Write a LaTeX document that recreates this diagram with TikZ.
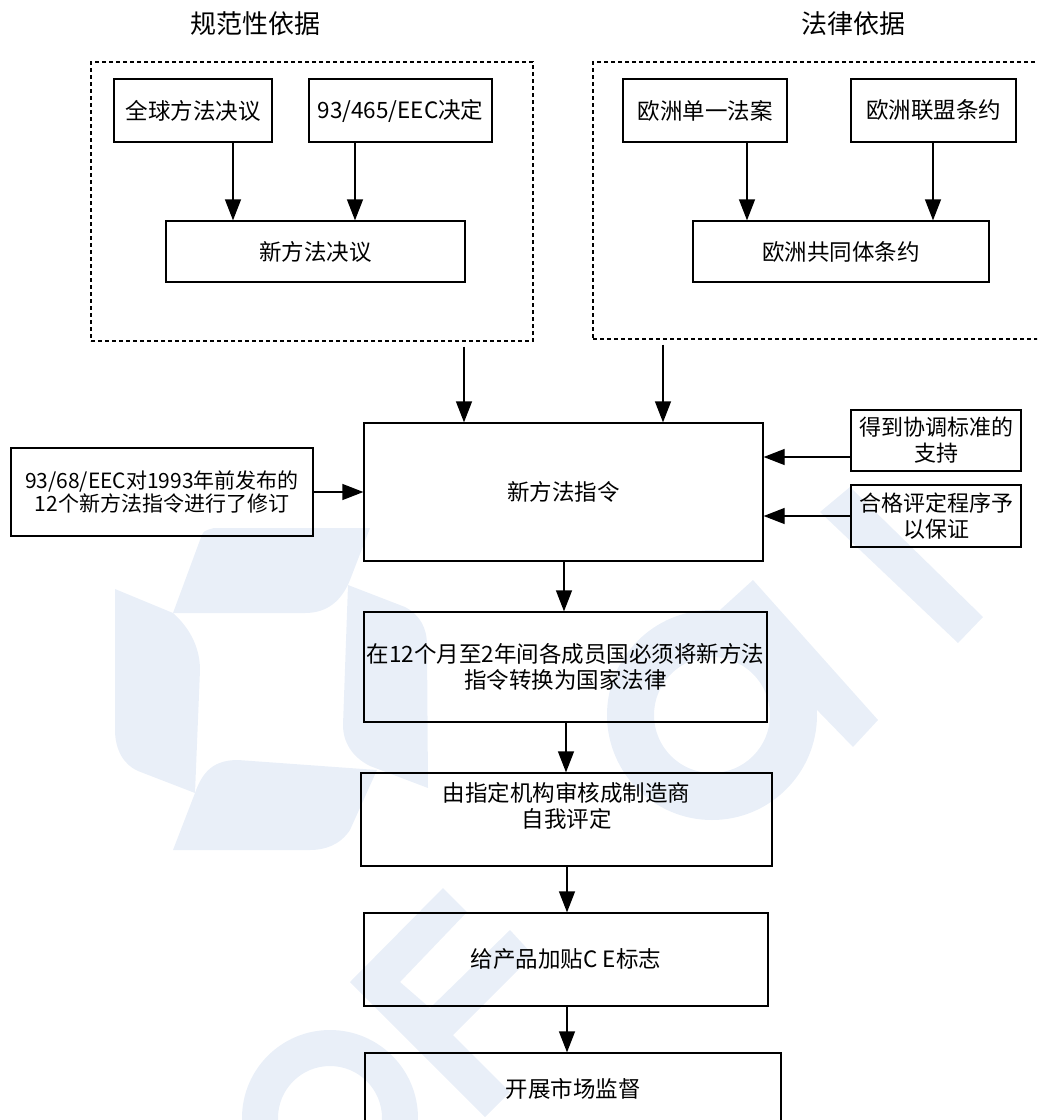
\documentclass[tikz,border=0pt]{standalone}
\usepackage{fontspec}
\setmainfont{Noto Sans CJK SC}
\usetikzlibrary{arrows.meta,calc}
\definecolor{wm}{HTML}{E9EFF8}
\tikzset{
  box/.style={draw, line width=1.3pt, inner sep=0pt, align=center, font=\fontsize{22.5}{25.5}\selectfont},
  dbox/.style={draw, line width=1.3pt, dash pattern=on 4pt off 3pt, inner sep=0pt},
  arr/.style={line width=1.3pt, -{Triangle[length=21pt,width=16pt]}},
  ttl/.style={font=\fontsize{26}{30}\selectfont, inner sep=0pt},
  txt/.style={inner sep=0pt, align=center, font=\fontsize{22.5}{25.5}\selectfont},
  wmark/.style={fill=wm, draw=none}
}
\begin{document}
\begin{tikzpicture}[x=1pt,y=-1pt]
\useasboundingbox (0,0) rectangle (1037,1120);
\clip (0,0) rectangle (1037,1120);
% ---- watermark (light logo) ----
\fill[wmark] (173,613) -- (200,540) .. controls (203,531) .. (214,528) -- (370,528) -- (350,580) .. controls (342,600) and (328,613) .. (305,613) -- cycle;
\fill[wmark] (115,589) -- (173,613) .. controls (192,630) and (200,650) .. (200,670) -- (195,793) -- (138,771) .. controls (124,765) and (115,750) .. (115,730) -- cycle;
\fill[wmark] (195,793) .. controls (203,770) and (215,760) .. (238,760) -- (377,770) -- (350,830) .. controls (340,845) and (325,850) .. (310,850) -- (173,850) -- cycle;
\fill[wmark] (348,585) -- (405,607) .. controls (420,615) and (427,628) .. (427,645) -- (428,788) -- (370,766) .. controls (352,757) and (343,742) .. (343,725) -- cycle;
\fill[wmark] (443,888) -- (350,982) -- (485,1117) -- (510,1092) -- (453,1035) -- (533,955) -- (510,930) -- (430,1008) -- (400,982) -- (467,912) -- cycle;
\fill[wmark, even odd rule] (330,1118) circle[radius=88pt] (330,1118) circle[radius=52pt];
\fill[wmark, even odd rule] (712,715) circle[radius=105pt] (712,715) circle[radius=58pt];
\fill[wmark] (820,512) -- (850,487) -- (983,617) -- (958,643) -- cycle;
\fill[wmark] (720,610) -- (753,580) -- (878,720) -- (853,747) -- cycle;
% ---- titles ----
\node[ttl] (t1) at (255,24) {规范性依据};
\node[ttl] (t2) at (853,24) {法律依据};
% ---- dashed groups ----
\node[dbox, minimum width=442pt, minimum height=279pt] (dl) at (312,201.5) {};
\node[dbox, minimum width=457pt, minimum height=277pt] (dr) at (821.5,200.5) {};
% ---- left group ----
\node[box, minimum width=158pt, minimum height=63pt] (a1) at (193,110.5) {全球方法决议};
\node[box, minimum width=183pt, minimum height=63pt] (a2) at (400.5,110.5) {93/465/EEC决定};
\node[box, minimum width=299pt, minimum height=61pt] (a3) at (315.5,251.5) {新方法决议};
% ---- right group ----
\node[box, minimum width=164pt, minimum height=63pt] (b1) at (705,110.5) {欧洲单一法案};
\node[box, minimum width=165pt, minimum height=63pt] (b2) at (933.5,110.5) {欧洲联盟条约};
\node[box, minimum width=296pt, minimum height=61pt] (b3) at (841,251.5) {欧洲共同体条约};
% ---- middle ----
\node[box, minimum width=399pt, minimum height=138pt] (m) at (563.5,492) {新方法指令};
\node[box, minimum width=170pt, minimum height=61pt, font=\fontsize{22}{26}\selectfont] (s1) at (936,440.5) {得到协调标准的\\支持};
\node[box, minimum width=170pt, minimum height=62pt, font=\fontsize{22}{26}\selectfont] (s2) at (936,516) {合格评定程序予\\以保证};
\node[box, minimum width=302pt, minimum height=88pt, font=\fontsize{21}{23}\selectfont] (l) at (162,492) {93/68/EEC对1993年前发布的\\12个新方法指令进行了修订};
% ---- chain ----
\node[box, minimum width=403pt, minimum height=110pt] (n1) at (565.5,667) {在12个月至2年间各成员国必须将新方法\\指令转换为国家法律};
\node[box, minimum width=411pt, minimum height=93pt] (n2) at (566.5,819.5) {};
\node[txt] (n2t) at (566.5,806) {由指定机构审核成制造商\\自我评定};
\node[box, minimum width=404pt, minimum height=93pt] (n3) at (566,959.5) {给产品加贴C E标志};
\node[box, minimum width=416pt, minimum height=72pt] (n4) at (573,1089) {开展市场监督};
% ---- connectors ----
\draw[arr] ([xshift=40pt]a1.south) -- ([xshift=40pt]a1.south |- a3.north);
\draw[arr] ([xshift=-45.5pt]a2.south) -- ([xshift=-45.5pt]a2.south |- a3.north);
\draw[arr] ([xshift=42pt]b1.south) -- ([xshift=42pt]b1.south |- b3.north);
\draw[arr] ([xshift=-0.5pt]b2.south) -- ([xshift=-0.5pt]b2.south |- b3.north);
\draw[arr, shorten <=5pt] ([xshift=152pt]dl.south) -- ([xshift=152pt]dl.south |- m.north);
\draw[arr, shorten <=5pt] ([xshift=-158.5pt]dr.south) -- ([xshift=-158.5pt]dr.south |- m.north);
\draw[arr] ([yshift=-16.5pt]s1.west) -- ([yshift=-16.5pt]s1.west -| m.east);
\draw[arr] (s2.west) -- (s2.west -| m.east);
\draw[arr] (l.east) -- (l.east -| m.west);
\draw[arr] ([xshift=0.5pt]m.south) -- ([xshift=0.5pt]m.south |- n1.north);
\draw[arr] ([xshift=0.5pt]n1.south) -- ([xshift=0.5pt]n1.south |- n2.north);
\draw[arr] ([xshift=0.5pt]n2.south) -- ([xshift=0.5pt]n2.south |- n3.north);
\draw[arr] ([xshift=1pt]n3.south) -- ([xshift=1pt]n3.south |- n4.north);
\end{tikzpicture}
\end{document}
